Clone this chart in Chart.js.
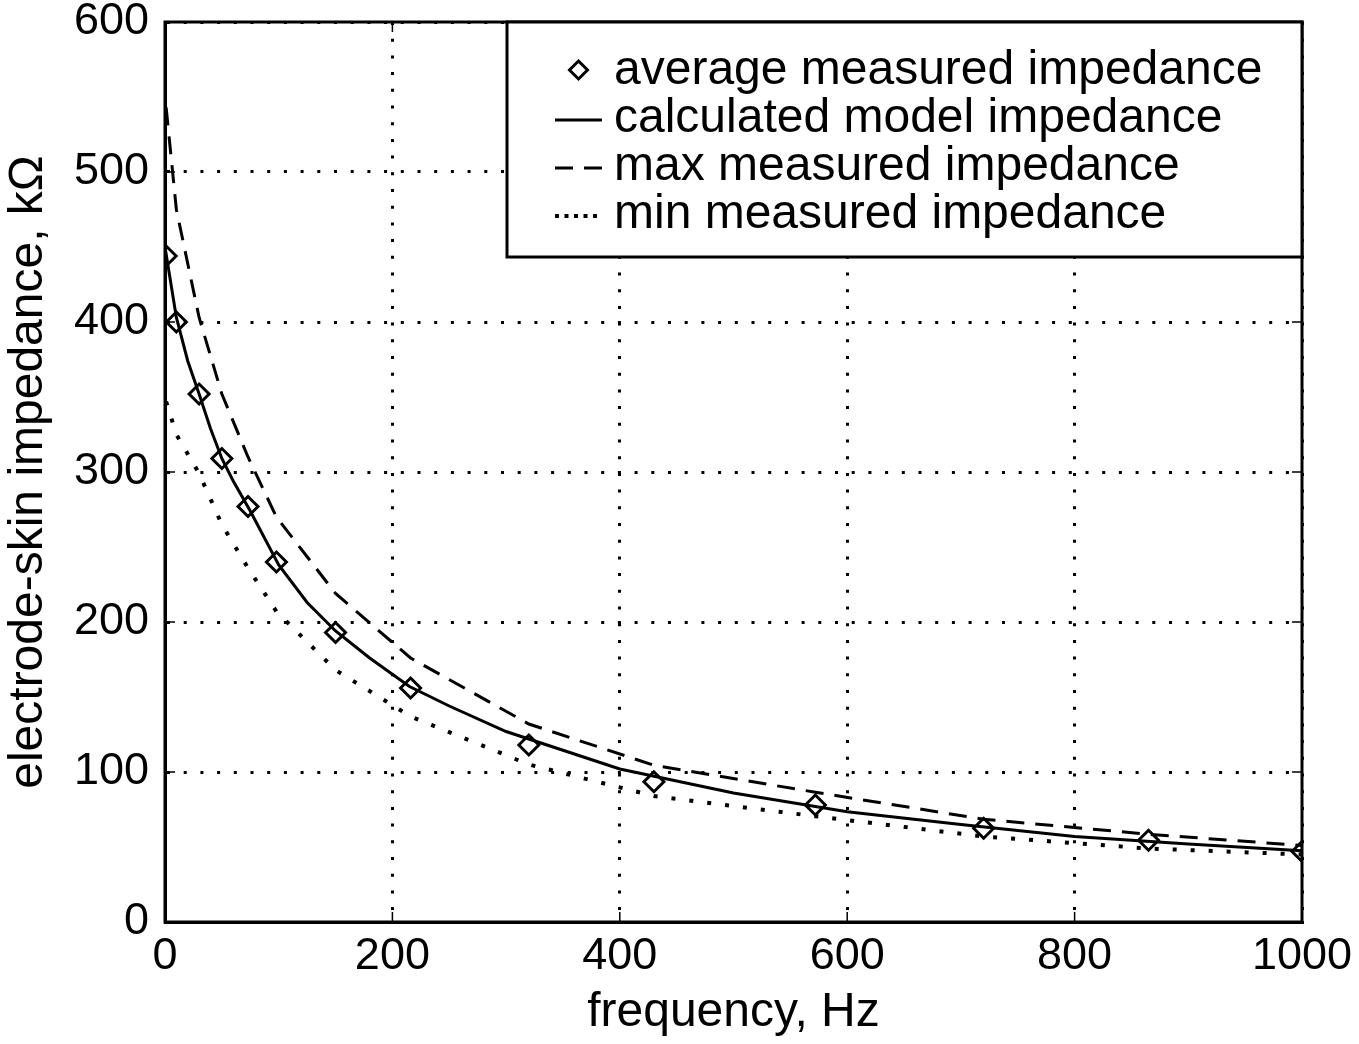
<!DOCTYPE html>
<html>
<head>
<meta charset="utf-8">
<script src="https://cdn.jsdelivr.net/npm/chart.js@4.4.1/dist/chart.umd.min.js"></script>
<style>
  html, body { margin: 0; padding: 0; background: #fff; }
  canvas { display: block; }
</style>
</head>
<body>
<canvas id="chart" width="1359" height="1044"></canvas>
<script>
// measured points (Hz / kOhm)
const measuredFreq = [1, 10, 30, 50, 73, 98, 150, 216, 320, 430, 572, 720, 865, 1000];
const averageMeasured = [444, 400, 352, 309, 277, 240, 193, 156, 118, 93.5, 78, 62.5, 54.5, 47];
const maxMeasured = [543, 475, 403, 352, 310, 270, 219, 176, 132, 104.5, 86.5, 68.5, 58.5, 51];
const minMeasured = [347, 325, 299, 265, 236, 207, 168, 137, 105, 84, 70.5, 57, 49, 45];

// model curve samples
const modelFreq = [0, 10, 20, 30, 40, 50, 60, 75, 100, 125, 150, 180, 215, 250, 300, 400, 500, 600, 700, 800, 900, 1000];
const modelImpedance = [450, 403, 374, 352, 329, 309, 294, 274, 238, 213, 194, 176, 157, 144, 127, 102, 86, 73.5, 65, 57, 52, 47.5];

const xTicks = [0, 200, 400, 600, 800, 1000];
const yTicks = [0, 100, 200, 300, 400, 500, 600];

const seriesLabels = [
    'average measured impedance',
    'calculated model impedance',
    'max measured impedance',
    'min measured impedance'
];

const FONT = '"Liberation Sans", Arial, Helvetica, sans-serif';

function toPoints(xs, ys) {
    return xs.map((x, i) => ({ x: x, y: ys[i] }));
}

function diamond(ctx, x, y, r) {
    ctx.beginPath();
    ctx.moveTo(x, y - r);
    ctx.lineTo(x + r, y);
    ctx.lineTo(x, y + r);
    ctx.lineTo(x - r, y);
    ctx.closePath();
    ctx.stroke();
}

// frame round the plot + small inward ticks (MATLAB style)
const frame = {
    id: 'frame',
    afterDatasetsDraw(chart) {
        const { ctx, chartArea: a, scales } = chart;
        ctx.save();
        ctx.strokeStyle = '#000';
        ctx.lineWidth = 1.5;
        ctx.beginPath();
        for (const v of xTicks) {
            const px = scales.x.getPixelForValue(v);
            ctx.moveTo(px, a.bottom); ctx.lineTo(px, a.bottom - 10);
            ctx.moveTo(px, a.top); ctx.lineTo(px, a.top + 10);
        }
        for (const v of yTicks) {
            const py = scales.y.getPixelForValue(v);
            ctx.moveTo(a.left, py); ctx.lineTo(a.left + 10, py);
            ctx.moveTo(a.right, py); ctx.lineTo(a.right - 10, py);
        }
        ctx.stroke();
        ctx.lineWidth = 3;
        ctx.strokeRect(a.left, a.top, a.right - a.left, a.bottom - a.top);
        ctx.restore();
    }
};

// boxed legend in the upper right corner of the axes
const boxLegend = {
    id: 'boxLegend',
    afterDraw(chart) {
        const { ctx, chartArea } = chart;
        const w = 795, h = 235;
        const left = chartArea.right - w, top = chartArea.top;
        ctx.save();
        ctx.fillStyle = '#fff';
        ctx.fillRect(left, top, w, h);
        ctx.lineWidth = 3;
        ctx.strokeStyle = '#000';
        ctx.strokeRect(left, top, w, h);
        ctx.font = '48px ' + FONT;
        ctx.textBaseline = 'alphabetic';
        chart.data.datasets.forEach((ds, i) => {
            const base = top + 62 + i * 48;
            const sy = base - 12;
            const x0 = left + 48, x1 = left + 95;
            ctx.strokeStyle = '#000';
            if (ds.showLine === false) {
                ctx.lineWidth = ds.pointBorderWidth;
                diamond(ctx, (x0 + x1) / 2, sy - 2, ds.pointRadius - 1);
            } else {
                ctx.lineWidth = ds.borderWidth;
                ctx.setLineDash(ds.legendDash || ds.borderDash || []);
                ctx.beginPath();
                ctx.moveTo(x0, sy);
                ctx.lineTo(x1, sy);
                ctx.stroke();
                ctx.setLineDash([]);
            }
            ctx.fillStyle = '#000';
            ctx.fillText(ds.label, left + 107, base);
        });
        ctx.restore();
    }
};

// keep the axes box where the figure has it: drop label overhang padding
function noOverhang(s) {
    s.paddingTop = 0;
    s.paddingBottom = 0;
    s.paddingLeft = 0;
    s.paddingRight = 0;
}

const config = {
    type: 'line',
    data: {
        datasets: [
            {
                label: seriesLabels[0],
                data: toPoints(measuredFreq, averageMeasured),
                showLine: false,
                pointStyle: 'rectRot',
                pointRadius: 10,
                pointBorderWidth: 3,
                pointBorderColor: '#000',
                pointBackgroundColor: 'rgba(0,0,0,0)'
            },
            {
                label: seriesLabels[1],
                data: toPoints(modelFreq, modelImpedance),
                borderColor: '#000',
                borderWidth: 3,
                pointRadius: 0,
                tension: 0
            },
            {
                label: seriesLabels[2],
                data: toPoints(measuredFreq, maxMeasured),
                borderColor: '#000',
                borderWidth: 3,
                borderDash: [18, 11],
                pointRadius: 0,
                tension: 0
            },
            {
                label: seriesLabels[3],
                data: toPoints(measuredFreq, minMeasured),
                borderColor: '#000',
                borderWidth: 4,
                borderDash: [4, 14],
                legendDash: [4, 5.5],
                pointRadius: 0,
                tension: 0
            }
        ]
    },
    options: {
        responsive: false,
        animation: false,
        devicePixelRatio: 1,
        layout: { padding: { top: 22, right: 57, left: 0, bottom: 0 } },
        plugins: {
            legend: { display: false },
            tooltip: { enabled: false }
        },
        scales: {
            x: {
                type: 'linear',
                min: 0,
                max: 1000,
                afterBuildTicks: (s) => { s.ticks = xTicks.map(v => ({ value: v })); },
                afterFit: (s) => { s.height = 122; noOverhang(s); },
                grid: { color: '#000', lineWidth: 3, drawTicks: false },
                border: { display: true, color: '#000', width: 3, dash: [3, 13.7] },
                ticks: {
                    color: '#000',
                    padding: 12,
                    maxRotation: 0,
                    callback: (v) => String(v),
                    font: { family: FONT, size: 45, lineHeight: 1 }
                },
                title: {
                    display: true,
                    text: 'frequency, Hz',
                    color: '#000',
                    padding: { top: 0, bottom: 2 },
                    font: { family: FONT, size: 48, lineHeight: 1.2 }
                }
            },
            y: {
                min: 0,
                max: 600,
                afterBuildTicks: (s) => { s.ticks = yTicks.map(v => ({ value: v })); },
                afterFit: (s) => { s.width = 165; noOverhang(s); },
                grid: { color: '#000', lineWidth: 3, drawTicks: false },
                border: { display: true, color: '#000', width: 3, dash: [3, 13.7] },
                ticks: {
                    color: '#000',
                    padding: 16,
                    callback: (v) => String(v),
                    font: { family: FONT, size: 45, lineHeight: 1 }
                },
                title: {
                    display: true,
                    text: 'electrode-skin impedance, kΩ',
                    color: '#000',
                    padding: { top: 0, bottom: 0 },
                    font: { family: FONT, size: 48, lineHeight: 1.2 }
                }
            }
        }
    },
    plugins: [frame, boxLegend]
};

new Chart(document.getElementById('chart'), config);
</script>
</body>
</html>
